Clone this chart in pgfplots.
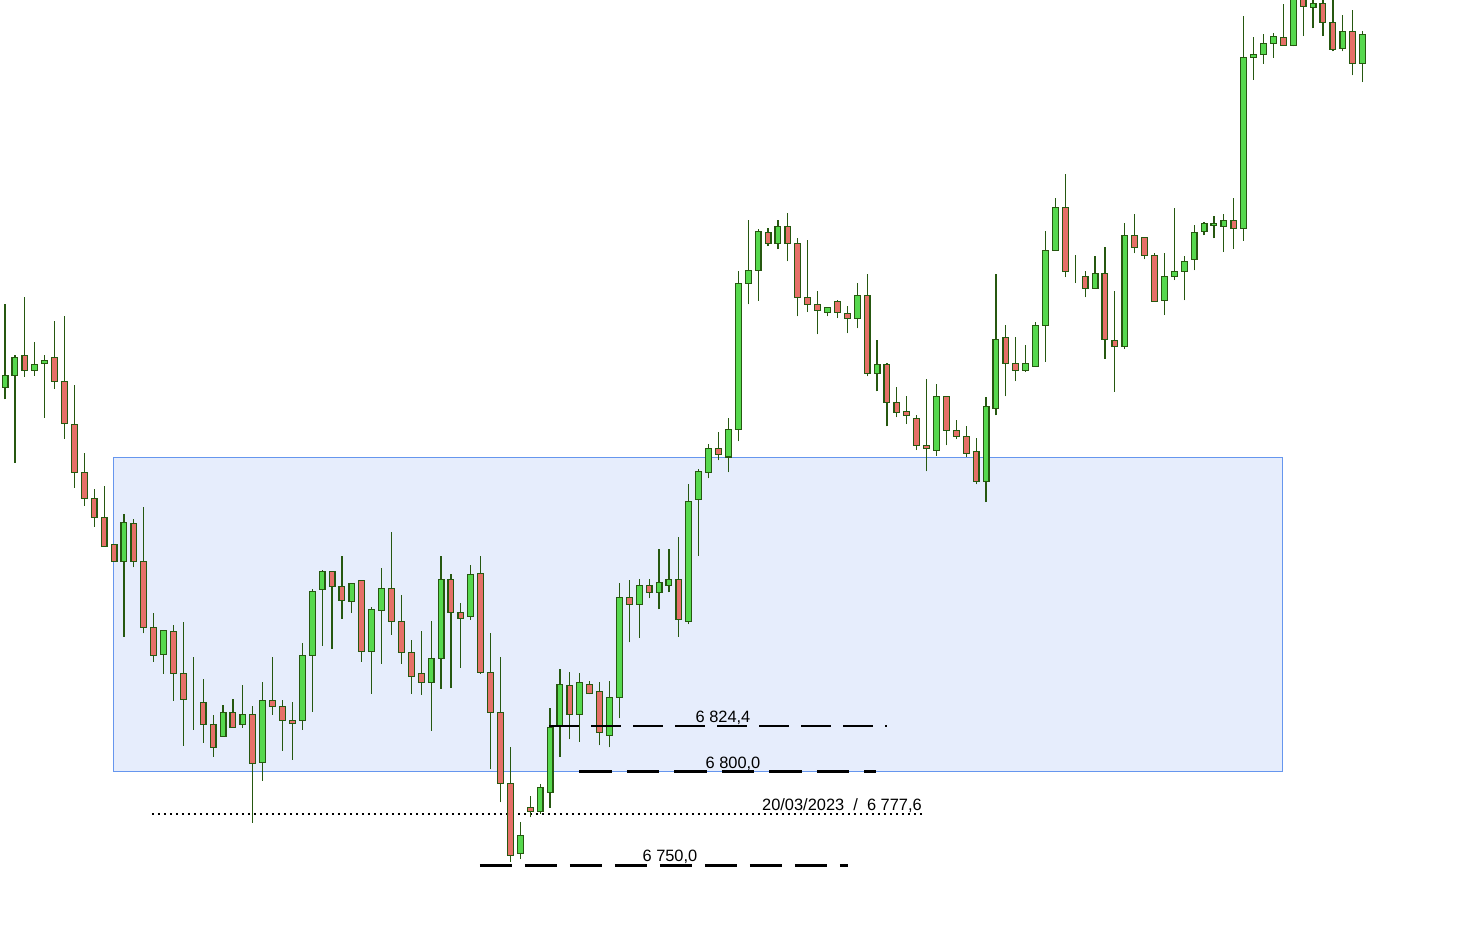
\documentclass[border=0pt]{standalone}
\usepackage{fontspec}
\setmainfont{Liberation Sans}
\usepackage{pgfplots}
\pgfplotsset{compat=1.18}
\usepackage{pgfplotstable}
\definecolor{up}{RGB}{86,216,78}
\definecolor{down}{RGB}{230,112,104}
\definecolor{wick}{RGB}{38,88,16}
\definecolor{zonefill}{RGB}{230,237,252}
\definecolor{zoneline}{RGB}{102,150,238}
\pgfplotstableread{
i o h l c
0 7005.6 7050.1 6999.1 7012.0
1 7012.0 7022.7 6965.2 7021.6
2 7022.7 7053.8 7011.2 7014.6
3 7014.6 7029.8 7011.8 7017.9
4 7018.4 7022.7 6989.3 7020.0
5 7021.6 7041.0 7004.8 7008.8
6 7008.8 7043.7 6978.1 6986.3
7 6985.8 7006.8 6951.9 6960.1
8 6960.1 6970.4 6942.2 6946.2
9 6946.2 6951.2 6931.0 6936.0
10 6936.0 6952.8 6920.5 6920.5
11 6921.6 6921.6 6912.5 6912.5
12 6912.5 6937.8 6872.2 6933.4
13 6932.8 6935.1 6909.3 6912.5
14 6912.5 6941.4 6874.0 6877.2
15 6877.2 6884.9 6858.8 6862.2
16 6862.8 6875.6 6852.4 6875.6
17 6875.1 6878.3 6838.0 6852.6
18 6852.6 6880.0 6813.9 6838.7
19 6838.5 6861.3 6822.5 6838.5
20 6837.1 6849.6 6815.5 6825.3
21 6825.3 6830.3 6808.0 6813.0
22 6818.9 6835.7 6818.9 6831.8
23 6831.8 6838.9 6823.7 6823.7
24 6825.3 6846.4 6823.6 6830.7
25 6830.7 6835.0 6772.7 6804.5
26 6805.0 6848.0 6795.2 6838.2
27 6838.2 6861.3 6830.5 6835.0
28 6835.0 6838.2 6811.2 6827.5
29 6827.5 6837.3 6806.4 6825.9
30 6827.5 6868.8 6822.5 6862.2
31 6862.2 6897.5 6832.1 6896.5
32 6897.5 6907.7 6867.4 6907.2
33 6907.2 6907.2 6865.8 6899.1
34 6899.1 6915.3 6881.8 6891.7
35 6891.1 6900.7 6885.0 6900.7
36 6902.4 6902.4 6858.8 6864.4
37 6864.4 6887.9 6841.7 6886.8
38 6886.3 6908.8 6857.8 6898.1
39 6898.1 6928.0 6873.3 6880.4
40 6880.4 6894.3 6857.8 6863.9
41 6863.9 6870.3 6841.7 6851.0
42 6852.6 6875.1 6841.2 6847.8
43 6847.8 6880.4 6821.9 6860.6
44 6860.6 6915.3 6844.4 6902.9
45 6902.9 6905.6 6844.9 6885.2
46 6885.2 6890.0 6855.6 6882.0
47 6883.1 6910.4 6881.3 6905.6
48 6906.1 6915.3 6852.4 6853.2
49 6853.2 6874.0 6801.3 6831.8
50 6831.8 6861.2 6783.6 6793.8
51 6793.8 6813.0 6751.9 6755.3
52 6756.4 6772.9 6753.2 6766.0
53 6781.0 6787.0 6775.6 6778.8
54 6778.6 6793.3 6777.4 6791.7
55 6789.0 6833.9 6780.7 6823.7
56 6824.3 6854.9 6808.0 6846.7
57 6846.2 6853.2 6817.3 6830.7
58 6830.7 6852.6 6816.0 6847.8
59 6846.7 6848.3 6841.4 6841.9
60 6843.0 6847.8 6814.1 6821.1
61 6819.5 6848.3 6813.0 6839.8
62 6839.8 6900.7 6828.5 6893.3
63 6893.3 6902.4 6869.2 6889.5
64 6889.5 6902.9 6871.7 6899.7
65 6899.7 6902.9 6892.7 6895.9
66 6895.9 6918.9 6886.8 6901.3
67 6899.7 6918.9 6895.9 6902.9
68 6902.9 6925.5 6872.2 6881.5
69 6880.4 6953.8 6878.8 6944.6
70 6945.7 6961.7 6915.5 6960.6
71 6960.1 6975.1 6956.9 6972.9
72 6972.9 6981.5 6966.5 6969.7
73 6968.3 6989.0 6960.1 6983.1
74 6983.1 7067.6 6976.7 7061.2
75 7061.2 7094.9 7049.9 7068.1
76 7068.1 7090.1 7051.9 7089.0
77 7088.4 7090.6 7081.0 7082.6
78 7082.6 7094.9 7079.4 7091.7
79 7091.7 7098.6 7072.9 7082.6
80 7082.6 7085.2 7043.5 7053.7
81 7053.7 7084.2 7045.7 7049.9
82 7049.9 7056.9 7033.9 7046.7
83 7045.7 7048.3 7043.5 7048.3
84 7051.5 7052.1 7042.5 7045.7
85 7045.1 7048.9 7034.4 7042.5
86 7042.5 7061.2 7037.1 7054.8
87 7054.8 7066.0 7011.4 7013.0
88 7013.0 7030.7 7003.4 7017.9
89 7017.9 7018.4 6984.6 6997.5
90 6997.5 7005.6 6989.5 6992.2
91 6992.7 7000.7 6985.8 6990.6
92 6989.0 6990.6 6971.9 6974.5
93 6974.5 7009.8 6960.6 6972.9
94 6971.9 7007.2 6968.7 7000.7
95 7000.7 7000.7 6974.5 6982.6
96 6982.6 6987.9 6977.8 6979.4
97 6979.4 6984.7 6968.5 6970.3
98 6971.3 6978.3 6953.7 6955.3
99 6955.3 7000.2 6944.1 6995.4
100 6994.3 7066.0 6990.6 7031.2
101 7032.3 7038.7 7000.7 7018.4
102 7018.4 7032.3 7008.8 7014.6
103 7014.6 7028.0 7013.6 7018.4
104 7016.8 7040.3 7016.8 7038.7
105 7038.7 7089.0 7019.3 7078.8
106 7078.8 7106.6 7078.8 7101.8
107 7101.8 7119.5 7064.4 7067.6
108 7066.2 7076.1 7061.2 7066.2
109 7064.9 7067.6 7053.7 7058.5
110 7058.5 7075.6 7058.5 7066.5
111 7066.5 7080.4 7020.9 7031.2
112 7030.7 7056.9 7003.2 7027.5
113 7027.5 7093.3 7025.9 7086.8
114 7086.8 7098.1 7077.2 7080.4
115 7085.8 7085.8 7074.0 7076.1
116 7076.1 7077.2 7051.5 7051.5
117 7052.1 7077.2 7044.1 7064.9
118 7064.9 7101.3 7062.8 7067.6
119 7067.6 7075.6 7052.1 7072.9
120 7074.0 7092.2 7068.1 7088.4
121 7089.0 7093.8 7086.8 7093.3
122 7092.2 7097.0 7085.2 7093.3
123 7091.7 7098.1 7077.8 7094.9
124 7094.9 7106.6 7079.4 7090.5
125 7090.4 7204.1 7084.0 7182.0
126 7182.0 7192.9 7170.1 7183.6
127 7183.6 7194.5 7178.6 7189.5
128 7189.5 7195.0 7181.8 7193.3
129 7192.7 7210.5 7188.4 7188.4
130 7188.4 7222.0 7187.9 7218.0
131 7220.0 7226.0 7193.3 7209.3
132 7208.8 7216.0 7197.5 7210.9
133 7210.9 7215.0 7193.3 7200.7
134 7200.7 7212.7 7185.2 7186.3
135 7186.8 7204.6 7185.2 7195.9
136 7195.9 7207.3 7172.4 7178.8
137 7178.8 7195.9 7168.7 7194.3
}\candles
\pgfplotsset{base/.style={
  scale only axis, width=1463bp, height=941bp,
  xmin=-0.505, xmax=147.13, ymin=6709.46, ymax=7212.67,
  hide axis, clip=true, at={(0,0)}, anchor=south west}}
\newcommand{\lab}{\fontsize{16.4bp}{19bp}\selectfont}
\begin{document}
\begin{tikzpicture}
\begin{axis}[base]
\addplot[fill=zonefill, draw=zoneline, line width=1bp, mark=none]
  coordinates {(10.9,6800) (128.96,6800) (128.96,6968) (10.9,6968) (10.9,6800)};
\addplot[black, line width=2bp, dash pattern=on 2bp off 4bp, mark=none]
  coordinates {(14.83,6777.6) (92.6,6777.6)};
\addplot[draw=none, mark=none,
  error bars/.cd, y dir=plus, y explicit, error mark=none,
  error bar style={draw=wick, line width=1.2bp}]
  table[x=i, y=l, y error expr=\thisrow{h}-\thisrow{l}] {\candles};
\end{axis}
\begin{axis}[base, ybar stacked, bar width=5.8bp]
\addplot[draw=none, fill=none] table[x=i, y expr={min(\thisrow{o},\thisrow{c})}] {\candles};
\addplot[draw=wick, fill=up, line width=1.2bp]
  table[x=i, y expr={ifthenelse(\thisrow{c}>\thisrow{o}, \thisrow{c}-\thisrow{o}, 0)}] {\candles};
\addplot[draw=wick, fill=down, line width=1.2bp]
  table[x=i, y expr={ifthenelse(\thisrow{o}>\thisrow{c}, \thisrow{o}-\thisrow{c}, 0)}] {\candles};
\end{axis}
\begin{axis}[base]
\addplot[black, line width=1.8bp, dash pattern=on 30bp off 12bp, mark=none]
  coordinates {(54.9,6824.4) (89.05,6824.4)};
\addplot[black, line width=3.2bp, dash pattern=on 32.5bp off 15bp, mark=none]
  coordinates {(57.95,6800) (87.9,6800)};
\addplot[black, line width=3bp, dash pattern=on 31.7bp off 13.3bp, mark=none]
  coordinates {(47.93,6750) (85.07,6750)};
\node[anchor=base, inner sep=0pt, font=\lab] at (axis cs:72.45,6826.2) {6 824,4};
\node[anchor=base, inner sep=0pt, font=\lab] at (axis cs:73.46,6801.8) {6 800,0};
\node[anchor=base east, inner sep=0pt, font=\lab] at (axis cs:92.53,6779.5) {20/03/2023\ \ /\ \ 6 777,6};
\node[anchor=base, inner sep=0pt, font=\lab] at (axis cs:67.1,6752.2) {6 750,0};
\end{axis}
\pgfresetboundingbox
\path (0,0) rectangle (1463bp,941bp);
\end{tikzpicture}
\end{document}
